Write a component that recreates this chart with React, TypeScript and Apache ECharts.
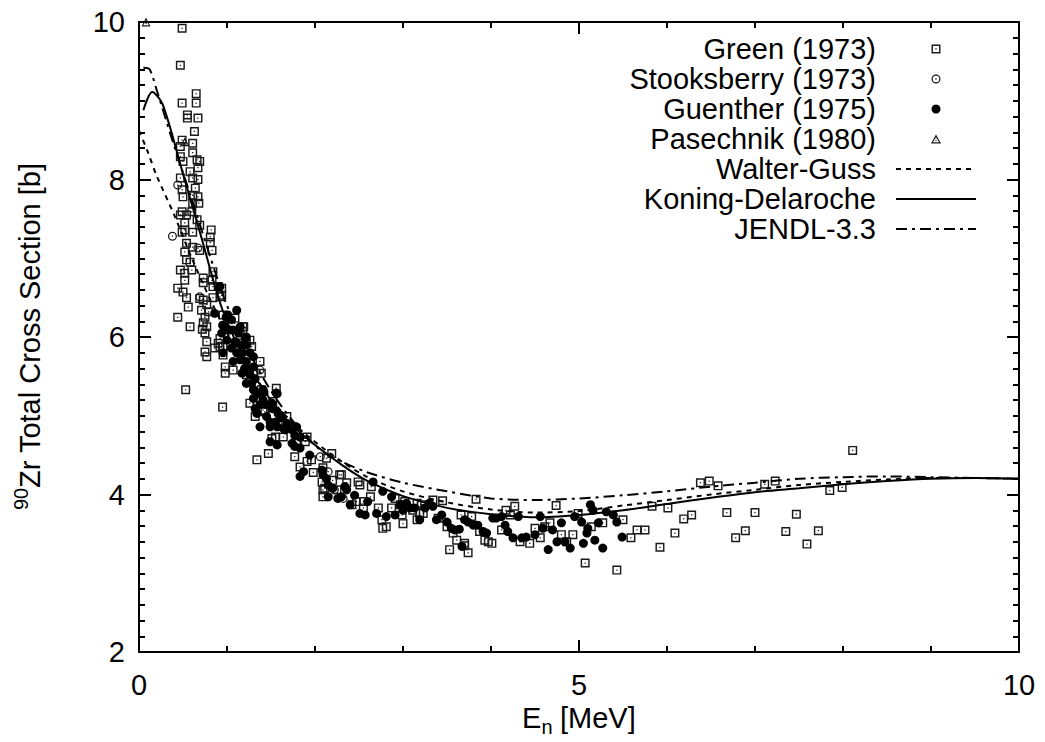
import React, { useEffect, useRef } from 'react';
import * as echarts from 'echarts';

// ---------- data (E in MeV, sigma in b) ----------
const green: [number, number][] = [
  [0.49, 9.92], [0.47, 9.45], [0.65, 9.09], [0.49, 8.97], [0.65, 8.97], [0.55, 8.82], [0.55, 8.78], [0.67, 8.78],
  [0.63, 8.61], [0.61, 8.46], [0.49, 8.5], [0.47, 8.42], [0.47, 8.29], [0.61, 8.34], [0.66, 8.25], [0.69, 8.23],
  [0.5, 8.23], [0.67, 8.15], [0.58, 8.1], [0.47, 8.02], [0.61, 8.02], [0.67, 8.0],
  [0.64, 7.89], [0.49, 7.87], [0.5, 7.78], [0.61, 7.8], [0.67, 7.78], [0.61, 7.7], [0.68, 7.7], [0.49, 7.59],
  [0.47, 7.55], [0.54, 7.55], [0.6, 7.59], [0.66, 7.49], [0.52, 7.45], [0.69, 7.42], [0.61, 7.33], [0.52, 7.36],
  [0.82, 7.36], [0.81, 7.27], [0.49, 7.33], [0.54, 7.19], [0.61, 7.14], [0.69, 7.1], [0.83, 7.1], [0.81, 7.2],
  [0.52, 7.08], [0.54, 6.98], [0.58, 6.95], [0.47, 6.85], [0.52, 6.81], [0.6, 6.85], [0.52, 6.72], [0.73, 6.75],
  [0.84, 6.83], [0.73, 6.69], [0.83, 6.72], [0.84, 6.64], [0.9, 6.64], [0.94, 6.62], [0.44, 6.62], [0.5, 6.57],
  [0.54, 6.5], [0.56, 6.38], [0.77, 6.41], [0.73, 6.47], [0.84, 6.5], [0.92, 6.51], [0.44, 6.25], [0.58, 6.13],
  [0.75, 6.25], [0.77, 6.13], [0.73, 6.18], [0.77, 5.94], [0.9, 5.92], [0.69, 6.49], [0.71, 6.34], [0.79, 6.32],
  [0.75, 6.05], [0.92, 5.98], [0.86, 5.86], [0.72, 6.1], [0.75, 5.81], [0.77, 5.75], [0.92, 5.87], [0.98, 5.62],
  [0.98, 5.54], [0.53, 5.33], [0.95, 5.11], [0.94, 6.53], [0.955, 6.28], [0.955, 5.88], [0.955, 5.77],
  [1.09, 6.24], [1.18, 6.13], [1.18, 6.07], [1.26, 5.96], [1.28, 5.88], [1.07, 5.58], [1.22, 5.52], [1.3, 5.56],
  [1.375, 5.69], [1.39, 5.54], [1.56, 5.35], [1.39, 5.33], [1.35, 5.23], [1.26, 5.16], [1.34, 5.18], [1.32, 4.99],
  [1.41, 5.07], [1.52, 5.18], [1.51, 5.1], [1.68, 4.99], [1.72, 4.86], [1.62, 4.9], [1.55, 4.73], [1.64, 4.73],
  [1.91, 4.73], [1.43, 5.05], [1.74, 4.86], [1.51, 4.71], [1.47, 4.52], [1.79, 4.65], [1.89, 4.67], [1.77, 4.48],
  [1.34, 4.44], [1.91, 4.42], [1.96, 4.44], [1.83, 4.35], [1.98, 4.28], [1.19, 6.13], [1.15, 6.02], [1.22, 5.92],
  [2.19, 4.52], [2.13, 4.46], [2.3, 4.25], [2.36, 4.15], [2.51, 4.12], [2.64, 4.1], [2.63, 3.97], [2.09, 4.06],
  [2.09, 3.97], [2.25, 4.06], [2.47, 3.91], [2.55, 3.83], [2.72, 3.83], [2.87, 3.83], [2.76, 3.68], [2.81, 3.59],
  [2.77, 3.57], [2.99, 3.74], [3.0, 3.63], [2.91, 3.95], [3.02, 3.91], [3.16, 3.89], [3.11, 3.8], [3.19, 3.76],
  [3.16, 3.68], [3.23, 3.76], [3.34, 3.93], [3.45, 3.92], [3.4, 3.7], [3.5, 3.59], [3.57, 3.51], [3.61, 3.42],
  [3.53, 3.3], [3.74, 3.26], [3.7, 3.38], [3.66, 3.74], [3.78, 3.72], [3.83, 3.94], [3.87, 3.53], [3.93, 3.42],
  [3.97, 3.4], [4.01, 3.38], [4.12, 3.55], [4.17, 3.8], [4.27, 3.85], [4.22, 3.74], [4.33, 3.4], [4.44, 3.38],
  [4.5, 3.57], [4.61, 3.59], [4.67, 3.64], [4.56, 3.45], [4.74, 3.86], [4.8, 3.49], [4.86, 3.4], [4.93, 3.49],
  [4.99, 3.76], [5.07, 3.13], [5.14, 3.59], [5.27, 3.64], [5.43, 3.04], [5.5, 3.68], [5.66, 3.55], [5.59, 3.45],
  [5.75, 3.55], [5.83, 3.85], [5.92, 3.33], [6.01, 3.83], [6.09, 3.51], [6.19, 3.69], [6.28, 3.74], [6.38, 4.15],
  [6.48, 4.17], [6.58, 4.11], [6.68, 3.77], [6.78, 3.45], [6.89, 3.54], [7.0, 3.77], [7.11, 4.13], [7.23, 4.17],
  [7.35, 3.53], [7.47, 3.75], [7.59, 3.37], [7.72, 3.54], [7.85, 4.05], [7.99, 4.09], [8.11, 4.56],
  [2.09, 4.34], [2.08, 4.16], [2.11, 4.08], [2.2, 4.18], [2.28, 4.25], [2.42, 3.87], [2.49, 4.16], [2.55, 3.91],
  [2.97, 3.87], [3.21, 3.87], [3.7, 3.35],
];

const stooksberry: [number, number][] = [
  [0.44, 7.93], [0.38, 7.28], [0.67, 7.13], [0.69, 6.51], [1.375, 5.58], [2.06, 4.48], [2.15, 4.29], [2.32, 3.95], [2.22, 4.06],
];

const guenther: [number, number][] = [
  [0.92, 6.64], [1.11, 6.34], [0.86, 6.3], [0.99, 6.25], [1.15, 6.13], [0.95, 6.15], [1.03, 6.09], [1.22, 6.0], [1.11, 5.92],
  [1.01, 6.28], [1.05, 6.22], [0.98, 6.13], [0.94, 6.05], [1.07, 6.09], [1.13, 6.05], [1.0, 5.96], [1.09, 5.94], [1.17, 5.9],
  [1.22, 5.9], [1.05, 5.86], [0.955, 5.8], [1.11, 5.8], [1.18, 5.8], [1.26, 5.8], [1.3, 5.75], [1.15, 5.71], [1.07, 5.69],
  [1.22, 5.69], [1.2, 5.6], [1.3, 5.62], [1.17, 5.54], [1.26, 5.52], [1.32, 5.47], [1.22, 5.41], [1.28, 5.41], [1.41, 5.33],
  [1.35, 5.29], [1.56, 5.29], [1.3, 5.22], [1.41, 5.2], [1.375, 5.14], [1.45, 5.14], [1.51, 5.16], [1.32, 5.09], [1.52, 5.09],
  [1.58, 5.03], [1.34, 5.03], [1.45, 4.99], [1.49, 4.92], [1.55, 4.92], [1.375, 4.86], [1.62, 4.97], [1.68, 4.9], [1.66, 4.82],
  [1.74, 4.82], [1.77, 4.75], [1.83, 4.73], [1.79, 4.86], [1.3, 5.33], [1.42, 5.3], [1.57, 5.28], [1.6, 5.01], [1.49, 4.86],
  [1.57, 4.86], [1.64, 4.84], [1.49, 4.67], [1.57, 4.63], [1.74, 4.65], [1.77, 4.61], [1.83, 4.59], [1.94, 4.5], [1.87, 4.29],
  [1.83, 4.23], [2.08, 4.31], [2.09, 4.25], [2.13, 4.2], [2.15, 4.12], [2.2, 4.08], [2.26, 3.95], [2.3, 3.97], [2.36, 4.06],
  [2.4, 3.87], [2.45, 3.99], [2.51, 3.76], [2.57, 3.74], [2.6, 3.91], [2.66, 4.16], [2.7, 3.76], [2.77, 4.04], [2.81, 3.72],
  [2.87, 3.97], [2.91, 3.74], [2.97, 3.87], [3.0, 3.8], [3.04, 3.89], [3.08, 3.83], [3.13, 3.83], [3.19, 3.68], [3.25, 3.83],
  [3.3, 3.89], [3.34, 3.85], [3.38, 3.68], [3.44, 3.74], [3.5, 3.65], [3.55, 3.57], [3.59, 3.55], [3.64, 3.56], [3.67, 3.34],
  [3.7, 3.68], [3.74, 3.65], [3.8, 3.61], [3.85, 3.61], [3.91, 3.53], [3.95, 3.51], [4.02, 3.7], [4.06, 3.7], [4.12, 3.72],
  [4.16, 3.61], [4.19, 3.53], [4.25, 3.45], [4.31, 3.72], [4.35, 3.45], [4.4, 3.46], [4.5, 3.49], [4.56, 3.72], [4.59, 3.57],
  [4.65, 3.3], [4.7, 3.55], [4.75, 3.4], [4.8, 3.64], [4.84, 3.4], [4.9, 3.32], [4.95, 3.72], [5.03, 3.65], [5.05, 3.38],
  [5.09, 3.51], [5.13, 3.87], [5.16, 3.8], [5.1, 3.57], [5.22, 3.64], [5.18, 3.42], [5.27, 3.32], [5.31, 3.78], [5.39, 3.74],
  [5.43, 3.65], [5.49, 3.46], [2.15, 3.97], [2.34, 4.1],
];

const pasechnik: [number, number][] = [[0.08, 10.0], [0.52, 8.48]];

const wgE = [0, 0.1, 0.2, 0.4, 0.6, 0.8, 1.0, 1.25, 1.6, 1.9, 2.3, 2.6, 3.0, 3.5, 4.0, 4.5, 5.0, 5.5, 6.0, 6.5, 7.0, 7.5, 8.0, 8.5, 9.0, 9.5, 10];
const wgS = [8.62, 8.35, 8.05, 7.55, 7.0, 6.5, 6.05, 5.6, 5.08, 4.76, 4.42, 4.22, 4.04, 3.9, 3.81, 3.77, 3.79, 3.86, 3.93, 4.0, 4.06, 4.12, 4.16, 4.19, 4.21, 4.21, 4.2];

const kdE = [0.05, 0.15, 0.27, 0.5, 0.7, 0.95, 1.25, 1.6, 1.9, 2.3, 2.6, 3.0, 3.5, 4.0, 4.5, 5.0, 5.5, 6.0, 6.5, 7.0, 7.5, 8.0, 8.5, 9.0, 9.5, 10];
const kdS = [8.88, 9.11, 8.95, 8.07, 7.3, 6.34, 5.62, 5.05, 4.72, 4.38, 4.17, 3.98, 3.83, 3.75, 3.71, 3.74, 3.8, 3.88, 3.96, 4.03, 4.08, 4.13, 4.17, 4.2, 4.21, 4.2];

const jE = [0.05, 0.12, 0.2, 0.39, 0.6, 0.8, 1.0, 1.3, 1.6, 2.0, 2.3, 2.6, 3.0, 3.5, 4.0, 4.5, 5.0, 5.5, 6.0, 6.5, 7.0, 7.5, 8.0, 8.5, 9.0, 9.5, 10];
const jS = [9.42, 9.4, 9.14, 8.46, 7.75, 7.05, 6.4, 5.7, 5.15, 4.62, 4.42, 4.28, 4.15, 4.04, 3.95, 3.93, 3.95, 3.99, 4.04, 4.1, 4.15, 4.2, 4.22, 4.23, 4.22, 4.21, 4.2];

const seriesNames = ['Green (1973)', 'Stooksberry (1973)', 'Guenther (1975)', 'Pasechnik (1980)', 'Walter-Guss', 'Koning-Delaroche', 'JENDL-3.3'];

const FONT = '"Liberation Sans", Arial, Helvetica, sans-serif';
const SQUARE = 'path://M0,0H10V10H0Z M1.6,1.6V8.4H8.4V1.6Z M4.3,4.3H5.7V5.7H4.3Z';
const RING = 'path://M5,0A5,5,0,1,1,5,10A5,5,0,1,1,5,0Z M5,1.4A3.6,3.6,0,1,0,5,8.6A3.6,3.6,0,1,0,5,1.4Z M4.3,4.3H5.7V5.7H4.3Z';
const TRI = 'path://M5,0L10,9L0,9Z M5,2.7L1.9,7.7L8.1,7.7Z M4.4,5.4H5.6V6.6H4.4Z';

const zip = (a: number[], b: number[]) => a.map((v, i) => [v, b[i]]);

export default function App() {
  const ref = useRef<HTMLDivElement>(null);
  useEffect(() => {
    if (!ref.current) return;
    const chart = echarts.init(ref.current, null, { renderer: 'svg' });
    const axisCommon = {
      axisLine: { show: true, onZero: false, lineStyle: { color: '#000', width: 2 } },
      axisTick: { show: true, inside: true, length: 12, lineStyle: { color: '#000', width: 2 } },
      splitLine: { show: false },
    };
    const xBase = {
      type: 'value', min: 0, max: 10, interval: 5, ...axisCommon,
      minorTick: { show: true, splitNumber: 5, length: 6, lineStyle: { color: '#000', width: 2 } },
    };
    const yBase = {
      type: 'value', min: 2, max: 10, interval: 2, ...axisCommon,
      minorTick: { show: true, splitNumber: 10, length: 6, lineStyle: { color: '#000', width: 2 } },
    };
    const labelStyle = { fontSize: 29, color: '#000', fontFamily: FONT };
    const pointStyle = { color: '#1a1a1a', opacity: 1 };
    chart.setOption({
      animation: false,
      backgroundColor: '#fff',
      grid: { left: 139, right: 26, top: 22, bottom: 90 },
      xAxis: [
        { ...xBase, position: 'bottom', axisLabel: { ...labelStyle, margin: 18 } },
        { ...xBase, position: 'top', axisLabel: { show: false } },
      ],
      yAxis: [
        { ...yBase, position: 'left', axisLabel: { ...labelStyle, margin: 14 } },
        { ...yBase, position: 'right', axisLabel: { show: false } },
      ],
      legend: {
        data: [
          seriesNames[0], seriesNames[1], seriesNames[2], seriesNames[3],
          { name: seriesNames[4], itemStyle: { opacity: 0 } },
          { name: seriesNames[5], itemStyle: { opacity: 0 } },
          { name: seriesNames[6], itemStyle: { opacity: 0 } },
        ],
        orient: 'vertical',
        align: 'right',
        right: 68,
        top: 34,
        padding: 0,
        itemGap: 0,
        itemWidth: 80,
        itemHeight: 9,
        selectedMode: false,
        textStyle: { fontSize: 29, fontFamily: FONT, color: '#000', lineHeight: 30, padding: [0, 15, 0, 0] },
      },
      series: [
        { type: 'scatter', name: seriesNames[0], data: green, symbol: SQUARE, symbolSize: 9, itemStyle: pointStyle, silent: true, z: 2 },
        { type: 'scatter', name: seriesNames[1], data: stooksberry, symbol: RING, symbolSize: 9, itemStyle: pointStyle, silent: true, z: 2 },
        { type: 'scatter', name: seriesNames[2], data: guenther, symbol: 'circle', symbolSize: 9, itemStyle: { color: '#000', opacity: 1 }, silent: true, z: 2 },
        { type: 'scatter', name: seriesNames[3], data: pasechnik, symbol: TRI, symbolSize: 9, itemStyle: pointStyle, silent: true, z: 2 },
        { type: 'line', name: seriesNames[4], data: zip(wgE, wgS), symbol: 'none', showSymbol: false, smooth: 0.3, silent: true, z: 3,
          itemStyle: { color: '#000' }, lineStyle: { color: '#000', width: 2, type: [5, 5] } },
        { type: 'line', name: seriesNames[5], data: zip(kdE, kdS), symbol: 'none', showSymbol: false, smooth: 0.3, silent: true, z: 3,
          itemStyle: { color: '#000' }, lineStyle: { color: '#000', width: 2, type: 'solid' } },
        { type: 'line', name: seriesNames[6], data: zip(jE, jS), symbol: 'none', showSymbol: false, smooth: 0.3, silent: true, z: 3,
          itemStyle: { color: '#000' }, lineStyle: { color: '#000', width: 2, type: [11, 5, 3, 5] } },
      ],
      graphic: [
        {
          type: 'group', x: 30, y: 335, rotation: Math.PI / 2,
          children: [
            { type: 'text', x: -175, y: -9, style: { text: '90', fontSize: 20, fontFamily: FONT, fill: '#000', align: 'left', verticalAlign: 'middle' } },
            { type: 'text', x: -153, y: 0, style: { text: 'Zr Total Cross Section [b]', fontSize: 29, fontFamily: FONT, fill: '#000', align: 'left', verticalAlign: 'middle' } },
          ],
        },
        {
          type: 'group', x: 0, y: 0,
          children: [
            { type: 'text', x: 522, y: 718, style: { text: 'E', fontSize: 29, fontFamily: FONT, fill: '#000', align: 'left', verticalAlign: 'middle' } },
            { type: 'text', x: 541.5, y: 727, style: { text: 'n', fontSize: 20, fontFamily: FONT, fill: '#000', align: 'left', verticalAlign: 'middle' } },
            { type: 'text', x: 560, y: 718, style: { text: '[MeV]', fontSize: 29, fontFamily: FONT, fill: '#000', align: 'left', verticalAlign: 'middle' } },
          ],
        },
      ],
    });
    return () => chart.dispose();
  }, []);
  return <div ref={ref} style={{ position: 'absolute', left: 0, top: 0, width: 1045, height: 742 }} />;
}
